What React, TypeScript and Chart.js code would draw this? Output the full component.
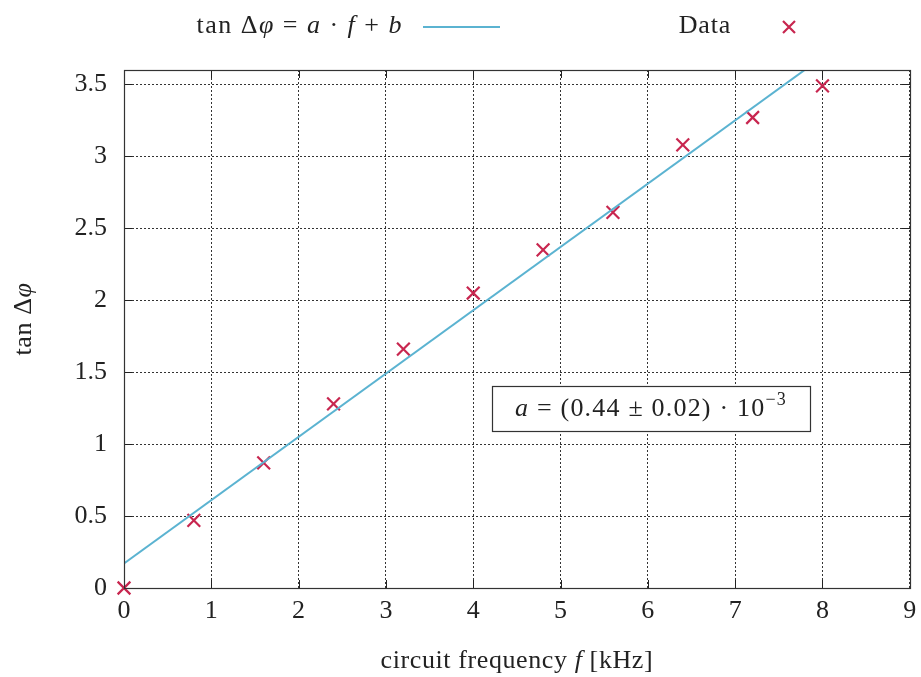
import React, { useEffect, useRef } from "react";
import { Chart, registerables } from "chart.js";

Chart.register(...registerables);

const frequencyKHz = [0, 0.8, 1.6, 2.4, 3.2, 4.0, 4.8, 5.6, 6.4, 7.2, 8.0];
const tanDeltaPhi = [0, 0.47, 0.87, 1.28, 1.66, 2.05, 2.35, 2.61, 3.08, 3.27, 3.49];
const fitX = [0, 9];
const fitY = [0.17, 4.13];
const xTicks = [0, 1, 2, 3, 4, 5, 6, 7, 8, 9];
const yTicks = [0, 0.5, 1, 1.5, 2, 2.5, 3, 3.5];

const FONT = "'Liberation Serif', 'DejaVu Serif', serif";
const FS = 26;
const LINE_COLOR = "#5bb3d1";
const MARK_COLOR = "#c8264f";

type Run = { t: string; it?: boolean; sup?: boolean };

function drawRuns(ctx: CanvasRenderingContext2D, runs: Run[], x: number, y: number, align: "left" | "center" | "right", size = FS, spacing = 0) {
  const fontFor = (r: Run) => `${r.it ? "italic " : ""}${r.sup ? Math.round(size * 0.7) : size}px ${FONT}`;
  (ctx as any).letterSpacing = `${spacing}px`;
  let total = 0;
  for (const r of runs) {
    ctx.font = fontFor(r);
    total += ctx.measureText(r.t).width;
  }
  let cx = align === "left" ? x : align === "center" ? x - total / 2 : x - total;
  ctx.textBaseline = "middle";
  ctx.textAlign = "left";
  for (const r of runs) {
    ctx.font = fontFor(r);
    ctx.fillText(r.t, cx, r.sup ? y - size * 0.35 : y);
    cx += ctx.measureText(r.t).width;
  }
  (ctx as any).letterSpacing = "0px";
  return total;
}

const decorPlugin = {
  id: "decor",
  afterDatasetsDraw(chart: any) {
    const ctx: CanvasRenderingContext2D = chart.ctx;
    const { left, right, top, bottom } = chart.chartArea;
    const xs = chart.scales.x;
    const ys = chart.scales.y;
    ctx.save();
    // inward ticks
    ctx.strokeStyle = "#222";
    ctx.lineWidth = 1;
    ctx.beginPath();
    for (const v of xTicks) {
      const px = Math.round(xs.getPixelForValue(v)) + 0.5;
      ctx.moveTo(px, bottom);
      ctx.lineTo(px, bottom - 8);
      ctx.moveTo(px, top);
      ctx.lineTo(px, top + 8);
    }
    for (const v of yTicks) {
      const py = Math.round(ys.getPixelForValue(v)) + 0.5;
      ctx.moveTo(left, py);
      ctx.lineTo(left + 8, py);
      ctx.moveTo(right, py);
      ctx.lineTo(right - 8, py);
    }
    ctx.stroke();
    // border
    ctx.strokeStyle = "#333";
    ctx.lineWidth = 1.2;
    ctx.strokeRect(Math.round(left) + 0.5, Math.round(top) + 0.5, Math.round(right - left), Math.round(bottom - top));

    // annotation box
    const bx = left + 368, by = top + 316, bw = 318, bh = 45;
    ctx.fillStyle = "#fff";
    ctx.fillRect(bx, by, bw, bh);
    ctx.strokeStyle = "#333";
    ctx.lineWidth = 1.2;
    ctx.strokeRect(bx + 0.5, by + 0.5, bw, bh);
    ctx.fillStyle = "#222";
    drawRuns(ctx, [
      { t: "a", it: true },
      { t: " = (0.44 ± 0.02) · 10" },
      { t: "−3", sup: true },
    ], bx + bw / 2, by + bh / 2 + 1, "center", FS, 1.2);

    // legend
    ctx.fillStyle = "#222";
    drawRuns(ctx, [
      { t: "tan Δ" },
      { t: "φ", it: true },
      { t: " = " },
      { t: "a", it: true },
      { t: " · " },
      { t: "f", it: true },
      { t: " + " },
      { t: "b", it: true },
    ], 403, 26, "right", FS, 1.5);
    ctx.strokeStyle = LINE_COLOR;
    ctx.lineWidth = 2;
    ctx.beginPath();
    ctx.moveTo(423, 27);
    ctx.lineTo(500, 27);
    ctx.stroke();
    drawRuns(ctx, [{ t: "Data" }], 731, 26, "right", FS, 0.8);
    ctx.strokeStyle = MARK_COLOR;
    ctx.lineWidth = 2.2;
    ctx.beginPath();
    ctx.moveTo(783, 21);
    ctx.lineTo(795, 33);
    ctx.moveTo(795, 21);
    ctx.lineTo(783, 33);
    ctx.stroke();

    // axis titles
    ctx.fillStyle = "#222";
    drawRuns(ctx, [
      { t: "circuit frequency " },
      { t: "f", it: true },
      { t: " [kHz]" },
    ], (left + right) / 2, 661, "center", FS, 0.6);
    ctx.save();
    ctx.translate(24, (top + bottom) / 2 - 10);
    ctx.rotate(-Math.PI / 2);
    drawRuns(ctx, [{ t: "tan Δ" }, { t: "φ", it: true }], 0, 0, "center", FS, 0.6);
    ctx.restore();
    ctx.restore();
  },
};

export default function App() {
  const ref = useRef<HTMLCanvasElement>(null);
  useEffect(() => {
    document.body.style.margin = "0";
    const canvas = ref.current!;
    const chart = new Chart(canvas, {
      type: "scatter",
      data: {
        datasets: [
          {
            type: "line",
            label: "fit",
            data: fitX.map((x, i) => ({ x, y: fitY[i] })),
            borderColor: LINE_COLOR,
            borderWidth: 2,
            pointRadius: 0,
            fill: false,
          },
          {
            label: "Data",
            data: frequencyKHz.map((x, i) => ({ x, y: tanDeltaPhi[i] })),
            pointStyle: "crossRot",
            pointRadius: 9,
            borderColor: MARK_COLOR,
            backgroundColor: MARK_COLOR,
            pointBorderWidth: 2.2,
            clip: false as any,
          },
        ],
      },
      plugins: [decorPlugin],
      options: {
        animation: false,
        responsive: false,
        maintainAspectRatio: false,
        layout: { padding: { top: 70, right: 0, left: 0, bottom: 0 } },
        plugins: { legend: { display: false }, tooltip: { enabled: false } },
        scales: {
          x: {
            type: "linear",
            min: 0,
            max: 9,
            afterBuildTicks: (s: any) => { s.ticks = xTicks.map((v) => ({ value: v })); },
            afterFit: (s: any) => { s.height = 89; s.paddingRight = 8; },
            border: { display: false, dash: [2, 2] },
            grid: { color: "#333", lineWidth: 1, drawTicks: false },
            ticks: { color: "#222", font: { family: FONT, size: FS }, padding: 8, callback: (v: any) => String(v) },
          },
          y: {
            type: "linear",
            min: 0,
            max: 3.6,
            afterBuildTicks: (s: any) => { s.ticks = yTicks.map((v) => ({ value: v })); },
            afterFit: (s: any) => { s.width = 124; },
            border: { display: false, dash: [2, 2] },
            grid: { color: "#333", lineWidth: 1, drawTicks: false },
            ticks: { color: "#222", font: { family: FONT, size: FS }, padding: 17, callback: (v: any) => String(v) },
          },
        },
      },
    } as any);
    return () => chart.destroy();
  }, []);
  return (
    <div style={{ width: 921, height: 677 }}>
      <canvas ref={ref} width={921} height={677} style={{ width: 921, height: 677 }} />
    </div>
  );
}
